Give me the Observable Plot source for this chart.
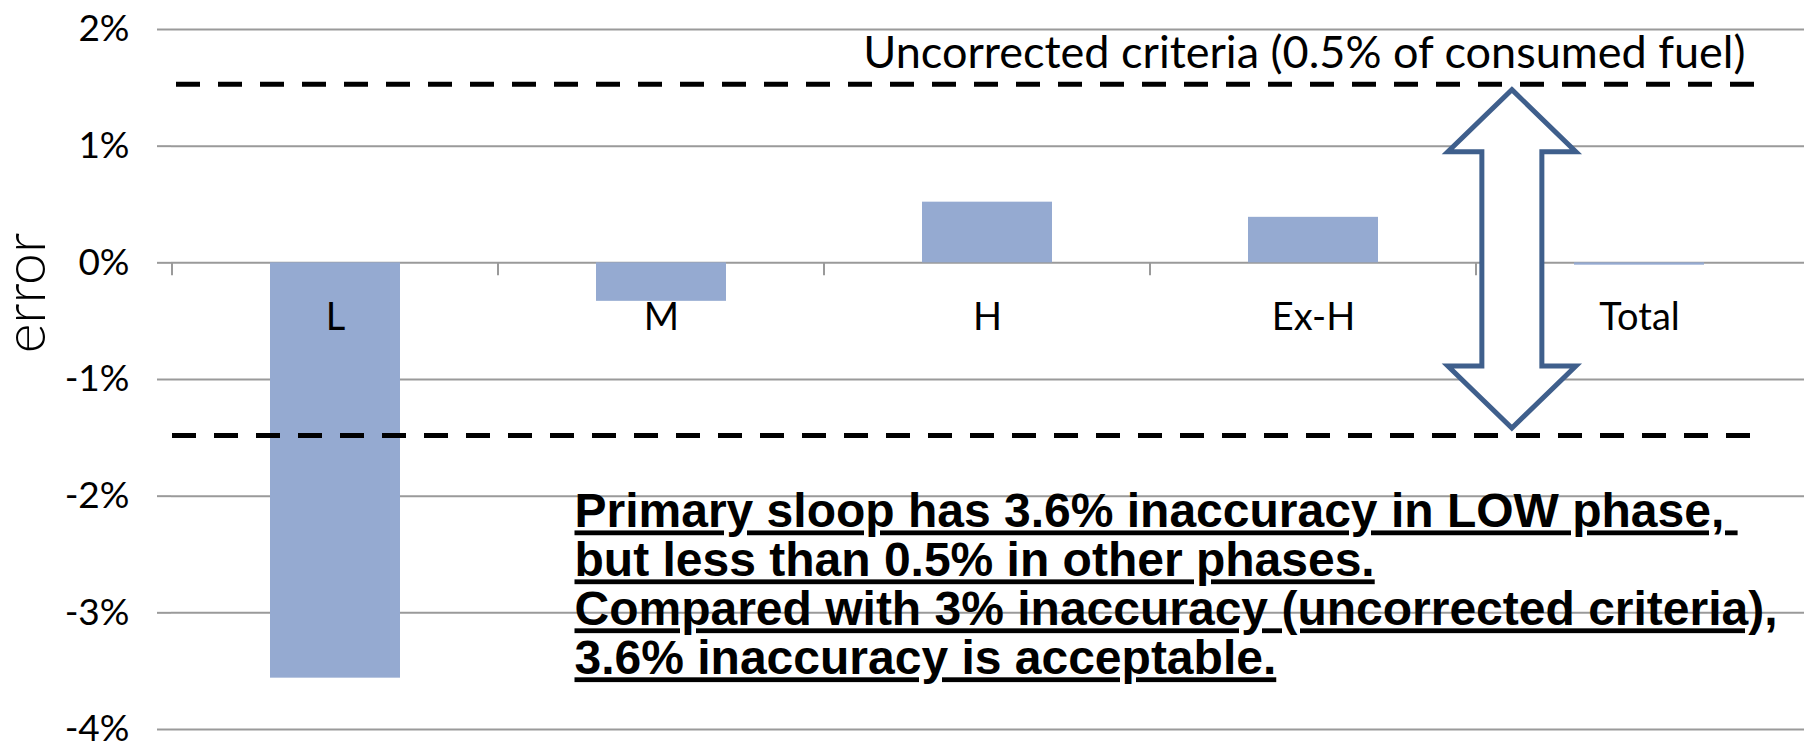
<!DOCTYPE html>
<html>
<head>
<meta charset="utf-8">
<script src="https://cdn.jsdelivr.net/npm/d3@7"></script>
<script src="https://cdn.jsdelivr.net/npm/@observablehq/plot@0.6"></script>
<style>
  html, body { margin: 0; padding: 0; background: #fff; }
  #chart svg { display: block; }
</style>
</head>
<body>
<div id="chart"></div>
<script>
// ---- data ----
const categories = ["L", "M", "H", "Ex-H", "Total"];
const errors = [-0.0356, -0.0033, 0.0052, 0.0039, -0.0002];
const yTicks = [-0.04, -0.03, -0.02, -0.01, 0, 0.01, 0.02];
const criteria = [0.0153, -0.0148];
const arrowSpan = [0.0148, -0.0142];
const yLabel = "error";
const criteriaLabel = "Uncorrected criteria (0.5% of consumed fuel)";
const noteLines = [
  "Primary sloop has 3.6% inaccuracy in LOW phase, ",
  "but less than 0.5% in other phases.",
  "Compared with 3% inaccuracy (uncorrected criteria),",
  "3.6% inaccuracy is acceptable."
];
const noteY = -0.0197;

const bars = categories.map((c, i) => ({category: c, error: errors[i]}));

const barColor = "#95AAD1";
const gridColor = "#9a9a9a";
const arrowColor = "#3F5F8C";
const pct = d => (Math.round(d * 100) === 0 ? "0" : String(Math.round(d * 100))) + "%";

// boundary ticks along the category (zero) axis
function categoryTicks(index, scales) {
  const x = scales.x, y = scales.y;
  const step = x(categories[1]) - x(categories[0]);
  const bw = x.bandwidth ? x.bandwidth() : step * 0.4;
  const g = d3.create("svg:g");
  const y0 = y(0);
  for (let i = 0; i < categories.length; i++) {
    const bx = x(categories[i]) + bw / 2 - step / 2;
    g.append("line")
      .attr("x1", bx).attr("x2", bx)
      .attr("y1", y0).attr("y2", y0 + 13)
      .attr("stroke", gridColor).attr("stroke-width", 2);
  }
  return g.node();
}

// hollow double-headed block arrow between the two criteria lines
function doubleArrow(index, scales) {
  const x = scales.x, y = scales.y;
  const step = x(categories[1]) - x(categories[0]);
  const bw = x.bandwidth ? x.bandwidth() : step * 0.4;
  const last = categories[categories.length - 1];
  const boundary = x(last) + bw / 2 - step / 2;
  const cx = boundary + 0.11 * step;
  const yt = y(arrowSpan[0]), yb = y(arrowSpan[1]);
  const hw = 64, sw = 30, hl = 62;
  const pts = [
    [cx, yt], [cx + hw, yt + hl], [cx + sw, yt + hl], [cx + sw, yb - hl],
    [cx + hw, yb - hl], [cx, yb], [cx - hw, yb - hl], [cx - sw, yb - hl],
    [cx - sw, yt + hl], [cx - hw, yt + hl]
  ];
  const g = d3.create("svg:g");
  g.append("path")
    .attr("d", "M" + pts.map(p => p.join(",")).join("L") + "Z")
    .attr("fill", "#fff")
    .attr("stroke", arrowColor)
    .attr("stroke-width", 5)
    .attr("stroke-linejoin", "miter");
  return g.node();
}

const chart = Plot.plot({
  width: 1804,
  height: 742,
  marginLeft: 171,
  marginRight: 0,
  marginTop: 29,
  marginBottom: 13,
  style: {fontFamily: "Lato, 'Noto Sans', sans-serif", fontSize: "37px", color: "#000", background: "#fff"},
  x: {type: "band", domain: categories, paddingInner: 0.6, paddingOuter: 0.3, align: 0.5, axis: null},
  y: {domain: [-0.04, 0.02], axis: null},
  marks: [
    Plot.ruleY(yTicks, {stroke: gridColor, strokeWidth: 2}),
    Plot.axisY({ticks: yTicks, tickFormat: pct, tickSize: 14, tickPadding: 28, label: null,
      stroke: gridColor, strokeWidth: 2, fill: "#000", fontSize: 37}),
    Plot.ruleX([0], {stroke: gridColor, strokeWidth: 2}),
    categoryTicks,
    Plot.barY(bars, {x: "category", y: "error", fill: barColor}),
    Plot.text(categories, {x: d => d, y: () => 0, dy: 55, text: d => d, fill: "#000",
      fontSize: 38, lineAnchor: "middle", textAnchor: "middle"}),
    Plot.ruleY([criteria[0]], {stroke: "#000", strokeWidth: 5, strokeDasharray: "24,18",
      insetLeft: 5, insetRight: 50}),
    Plot.ruleY([criteria[1]], {stroke: "#000", strokeWidth: 5, strokeDasharray: "24,18",
      insetLeft: 1, insetRight: 53}),
    doubleArrow,
    Plot.text([criteriaLabel], {x: () => categories[categories.length - 1], y: () => criteria[0],
      dx: 106, dy: -16, text: d => d, textAnchor: "end", lineAnchor: "bottom",
      fontSize: 45, fill: "#000"}),
    Plot.text([noteLines.join("\n")], {x: () => categories[1], y: () => noteY,
      dx: -87, text: d => d, textAnchor: "start", lineAnchor: "top", lineHeight: 1.02,
      fontFamily: "'Liberation Sans', Arial, sans-serif", fontWeight: "bold", fontSize: 48, fill: "#000"}),
    Plot.text([yLabel], {frameAnchor: "left", y: () => -0.0026, dx: -145, rotate: -90,
      text: d => d, textAnchor: "middle", lineAnchor: "middle", fontSize: 57, fontWeight: 300, fill: "#000"})
  ]
});

d3.select(chart).selectAll("text").filter(function() {
  return this.textContent.indexOf("Primary") === 0;
}).selectAll("tspan")
  .style("text-decoration", "underline")
  .style("text-decoration-thickness", "3px")
  .style("text-underline-offset", "4px")
  .style("text-decoration-skip-ink", "none");

document.getElementById("chart").appendChild(chart);
</script>
</body>
</html>
